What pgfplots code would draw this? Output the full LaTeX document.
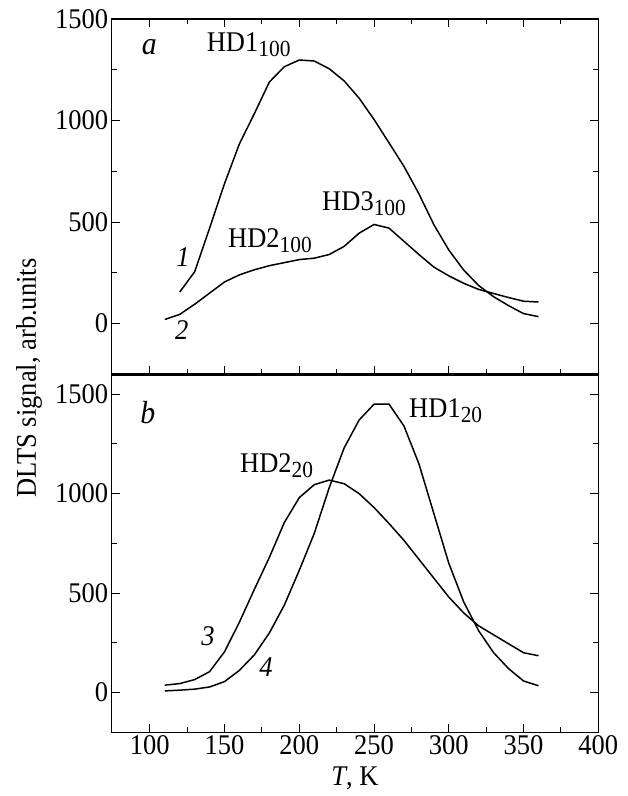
\documentclass[border=0pt]{standalone}
\usepackage{pgfplots}
\pgfplotsset{compat=1.18}
\usepackage{fontspec}
\setmainfont{Liberation Serif}[FakeStretch=0.93]

\newcommand{\lbl}{\fontsize{28.5}{32}\selectfont}
\newcommand{\sub}[1]{\raisebox{-5pt}{\fontsize{23}{25}\selectfont #1}}

\tikzset{txt/.style={font=\lbl, inner sep=0pt}}
\pgfplotsset{
  panel/.style={
    scale only axis, width=486.6pt,
    xmin=74.5, xmax=400,
    xtick={100,150,...,400}, minor x tick num=1,
    ytick={0,500,1000,1500}, minor y tick num=1,
    tick align=inside, ytick pos=both,
    major tick length=8pt, minor tick length=5pt,
    axis line style={line width=1.3pt},
    every tick/.style={black, line width=1pt},
    tick label style={font=\lbl},
    /pgf/number format/1000 sep={},
    /pgf/number format/assume math mode=true,
    every axis plot post/.append style={black, line width=1.5pt, mark=none},
    clip=false,
  },
}

\begin{document}
\begin{tikzpicture}
% panel a
\begin{axis}[panel, height=355.3pt, at={(0,358pt)}, anchor=south west,
    ymin=-250, ymax=1500, xtick pos=both, xticklabels={}]
\addplot coordinates {
  (120,155) (130,255) (140,470) (150,690) (160,886) (170,1035) (180,1190)
  (190,1265) (200,1298) (210,1293) (220,1255) (230,1195) (240,1110)
  (250,1005) (260,890) (270,774) (280,639) (290,487) (300,362) (310,263)
  (320,187) (330,132) (340,88) (350,49) (360,34)};
\addplot coordinates {
  (110,20) (120,45) (130,95) (140,150) (150,205) (160,240) (170,265)
  (180,285) (190,300) (200,315) (210,322) (220,340) (230,380) (240,445)
  (250,488) (260,470) (270,405) (280,340) (290,278) (300,235) (310,198)
  (320,168) (330,148) (340,128) (350,110) (360,106)};
\node[txt, font=\fontsize{32}{34}\selectfont] at (axis cs:99.7,1360) {\textit{a}};
\node[txt, anchor=base west] at (axis cs:138,1339) {HD1\sub{100}};
\node[txt, anchor=base west] at (axis cs:152.3,374) {HD2\sub{100}};
\node[txt, anchor=base west] at (axis cs:215.2,558) {HD3\sub{100}};
\node[txt] at (axis cs:122.2,325) {\textit{1}};
\node[txt] at (axis cs:121.4,-33) {\textit{2}};
\end{axis}
% panel b
\begin{axis}[panel, height=358pt, at={(0,0)}, anchor=south west,
    ymin=-200, ymax=1600, xtick pos=bottom]
\addplot coordinates {
  (110,37) (120,45) (130,65) (140,105) (150,205) (160,355) (170,520)
  (180,680) (190,855) (200,980) (210,1045) (220,1068) (230,1050)
  (240,1000) (250,930) (260,850) (270,765) (280,670) (290,575) (300,480)
  (310,400) (320,335) (330,290) (340,245) (350,200) (360,185)};
\addplot coordinates {
  (110,8) (120,12) (130,17) (140,28) (150,55) (160,112) (170,190)
  (180,300) (190,440) (200,615) (210,800) (220,1030) (230,1230)
  (240,1370) (250,1450) (260,1450) (270,1340) (280,1150) (290,900)
  (300,650) (310,455) (320,310) (330,200) (340,120) (350,58) (360,34)};
\node[txt, font=\fontsize{32}{34}\selectfont] at (axis cs:98.7,1408) {\textit{b}};
\node[txt, anchor=base west] at (axis cs:273.4,1383) {HD1\sub{20}};
\node[txt, anchor=base west] at (axis cs:160.3,1105) {HD2\sub{20}};
\node[txt] at (axis cs:138.9,281) {\textit{3}};
\node[txt] at (axis cs:177.7,130) {\textit{4}};
\draw[line width=3pt] (rel axis cs:0,1) -- (rel axis cs:1,1);
\end{axis}
\node[txt, rotate=90] at (-82.7pt,354.3pt) {DLTS signal, arb.units};
\node[txt] at (243.3pt,-45.7pt) {\textit{T}, K};
\pgfresetboundingbox
\path (-111.7pt,-63.7pt) rectangle (516.3pt,732.3pt);
\end{tikzpicture}
\end{document}
